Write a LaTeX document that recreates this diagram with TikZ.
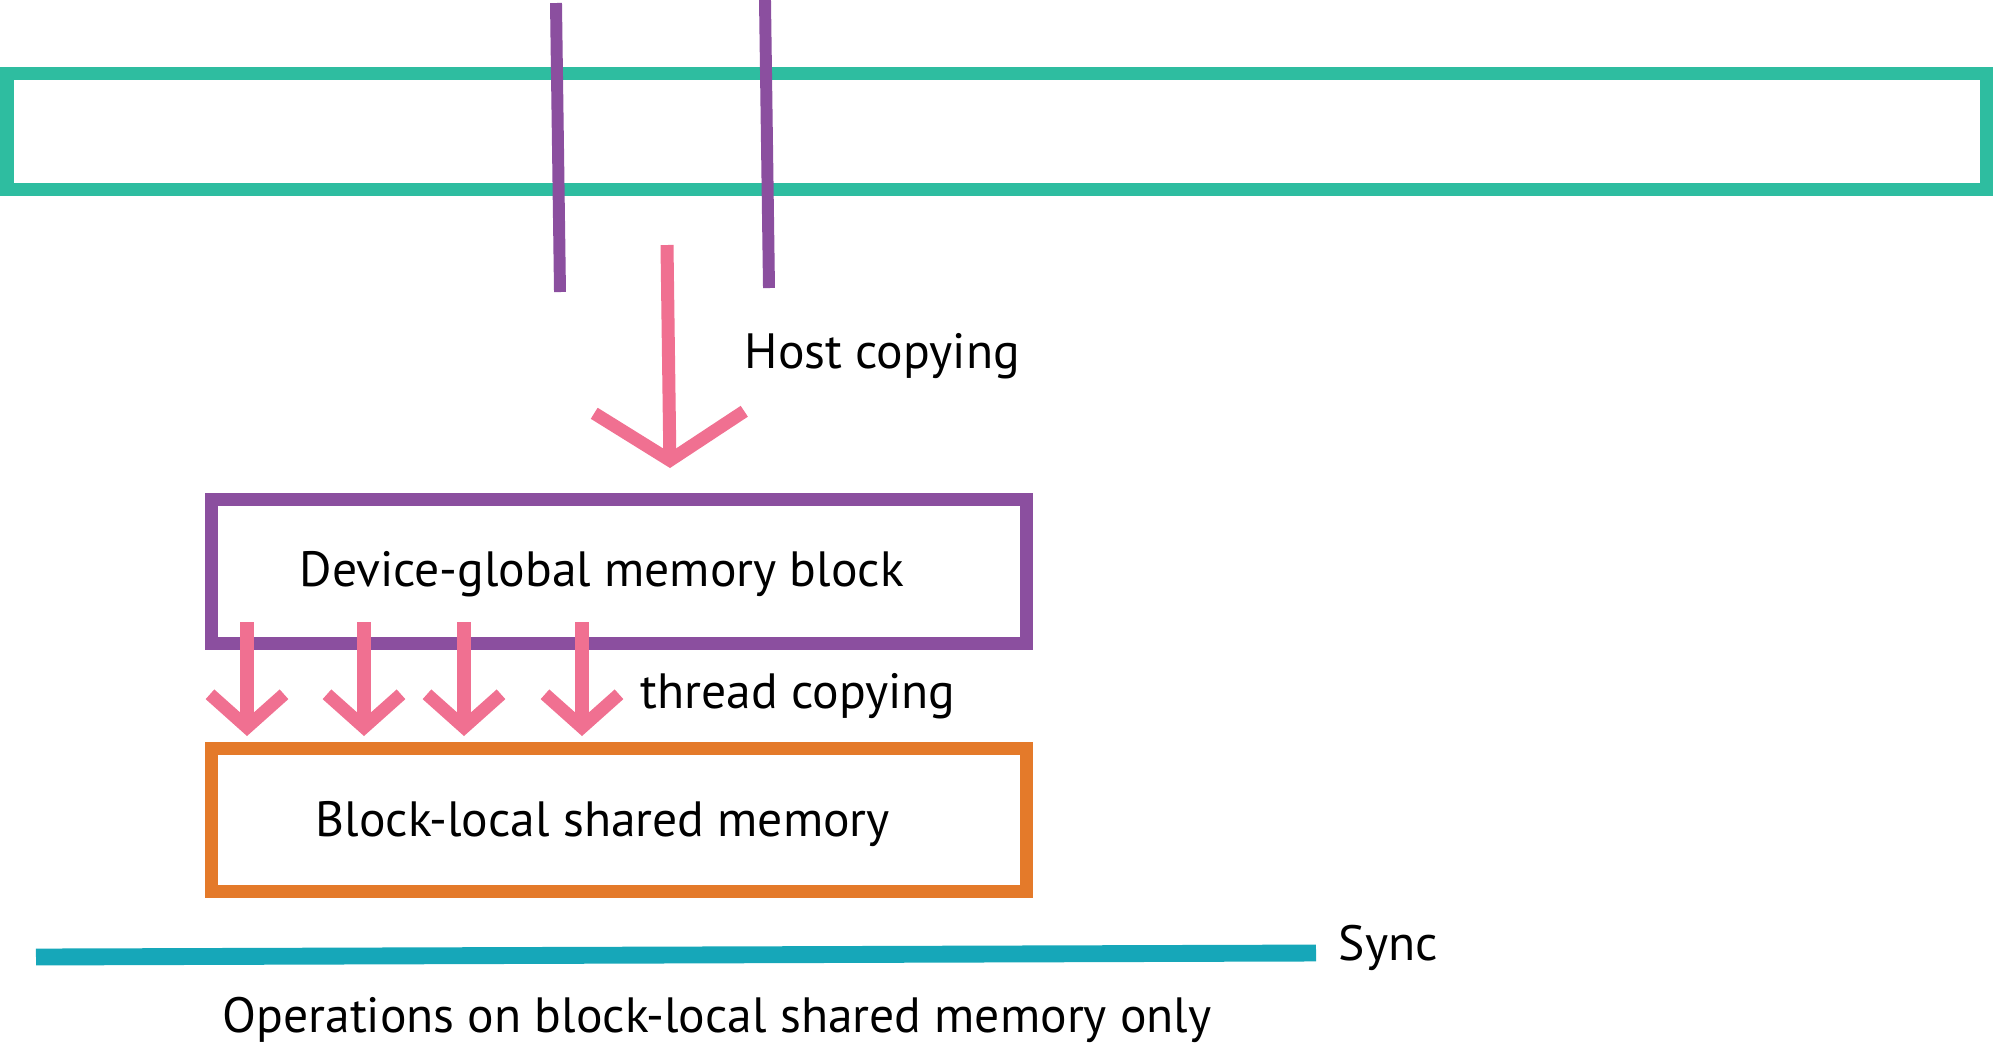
\documentclass[tikz,border=0pt]{standalone}
\usepackage{fontspec}
\setmainfont{PT Sans}
\usetikzlibrary{arrows.meta}
\definecolor{hostgreen}{RGB}{46,189,160}
\definecolor{devpurple}{RGB}{139,79,159}
\definecolor{copypink}{RGB}{240,112,145}
\definecolor{sharedorange}{RGB}{228,122,42}
\definecolor{syncteal}{RGB}{22,167,185}
\tikzset{
  membox/.style={draw, line width=3.7pt, minimum width=8.14cm, minimum height=1.43cm, inner sep=0pt},
  lbl/.style={anchor=base west, inner sep=0pt, font=\fontsize{14.1}{17}\selectfont},
  hostarrow/.style={draw=copypink, line width=3.7pt, -{Straight Barb[length=0.48cm, width=1.5cm]}},
  threadarrow/.style={draw=copypink, line width=3.7pt, -{Straight Barb[length=0.33cm, width=0.74cm]}}
}
\begin{document}
\begin{tikzpicture}[x=0.01cm, y=-0.01cm]
      \useasboundingbox (0,0) rectangle (1993,1047);
      % host memory strip
      \draw[hostgreen, line width=3.7pt] (7,73) rectangle (1986,189);
      \draw[devpurple, line width=3.4pt]
        (556,3) coordinate (p1a) -- (560,292) coordinate (p1b)
        (765,0) coordinate (p2a) -- (769,288) coordinate (p2b);
      % boxes
      \node[membox, draw=devpurple] (dev) at (619,571.5) {};
      \node[membox, draw=sharedorange] (shared) at (619,820) {};
      \node[lbl] (devlbl) at (299,586) {Device-global memory block};
      \node[lbl] (sharedlbl) at (315,836) {Block-local shared memory};
      % host copy
      \coordinate (hs) at (667,245);
      \coordinate (he) at (670,468);
      \draw[hostarrow] (hs) to (he);
      \node[lbl] (hostlbl) at (744,368) {Host copying};
      % thread copies
      \coordinate (t1) at (247,622);
      \coordinate (t2) at (364,622);
      \coordinate (t3) at (464,622);
      \coordinate (t4) at (582,622);
      \coordinate (s1) at (247,736);
      \coordinate (s2) at (364,736);
      \coordinate (s3) at (464,736);
      \coordinate (s4) at (582,736);
      \begin{scope}[threadarrow]
        \draw (t1) to (s1);
        \draw (t2) to (s2);
        \draw (t3) to (s3);
        \draw (t4) to (s4);
      \end{scope}
      \node[lbl] (threadlbl) at (640,708) {thread copying};
      % sync
      \coordinate (sy1) at (36,957);
      \coordinate (sy2) at (1316,953);
      \draw[syncteal, line width=4.8pt] (sy1) -- (sy2);
      \node[lbl] (synclbl) at (1338,960) {Sync};
      \node[lbl] (opslbl) at (222,1032) {Operations on block-local shared memory only};
    \end{tikzpicture}
\end{document}
